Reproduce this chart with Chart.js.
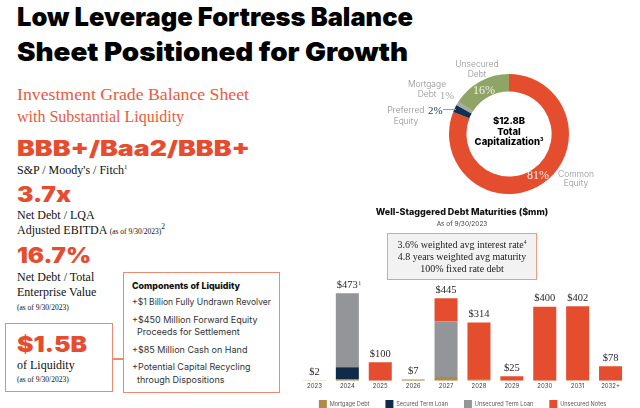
<!DOCTYPE html>
<html>
<head>
<meta charset="utf-8">
<script src="https://cdn.jsdelivr.net/npm/chart.js"></script>
<style>
  html, body { margin: 0; padding: 0; background: #fff; }
  #page { position: relative; width: 640px; height: 408px; overflow: hidden; background: #fff; }
  .t { position: absolute; white-space: nowrap; line-height: 1; }
  .heavy { font-family: Inter, "DejaVu Sans", sans-serif; font-weight: 900; }
  .serif { font-family: "Liberation Serif", "DejaVu Serif", serif; }
  .sans { font-family: Inter, "DejaVu Sans", sans-serif; }
  .or { color: #e64c2e; }
  .c { text-align: center; }
  sup { font-size: 55%; vertical-align: 0; position: relative; top: -0.7em; }
  .small { font-size: 7.5px; }
  .box { position: absolute; box-sizing: border-box; }
  .cap { color: #8b8d90; font-size: 8.5px; font-family: Inter, "DejaVu Sans", sans-serif; font-weight: 300; }
</style>
</head>
<body>
<div id="page">
  <!-- title -->
  <div class="t heavy" data-w="396" style="left:17px;top:4px;font-size:26px;color:#000;">Low Leverage Fortress Balance</div>
  <div class="t heavy" data-w="391" style="left:17px;top:39px;font-size:26px;color:#000;">Sheet Positioned for Growth</div>

  <!-- left column -->
  <div class="t serif or" data-w="232" style="left:17px;top:87px;font-size:16px;color:#ea5a40;">Investment Grade Balance Sheet</div>
  <div class="t serif or" style="left:17px;top:109px;font-size:16px;color:#ea5a40;">with Substantial Liquidity</div>
  <div class="t heavy or" data-w="233" style="left:17px;top:138px;font-size:21px;">BBB+/Baa2/BBB+</div>
  <div class="t serif" style="left:17px;top:164px;font-size:12px;color:#111;">S&amp;P / Moody's / Fitch<sup>1</sup></div>
  <div class="t heavy or" data-w="54" style="left:17px;top:184px;font-size:21px;">3.7x</div>
  <div class="t serif" style="left:17px;top:209px;font-size:12px;color:#111;">Net Debt / LQA</div>
  <div class="t serif" style="left:17px;top:224px;font-size:12px;color:#111;">Adjusted EBITDA <span class="small">(as of 9/30/2023)</span><sup class="small">2</sup></div>
  <div class="t heavy or" data-w="74" style="left:17px;top:245px;font-size:21px;">16.7%</div>
  <div class="t serif" style="left:17px;top:271px;font-size:12px;color:#111;">Net Debt / Total</div>
  <div class="t serif" style="left:17px;top:286px;font-size:12px;color:#111;">Enterprise Value</div>
  <div class="t serif" style="left:17px;top:304px;font-size:7.5px;color:#111;">(as of 9/30/2023)</div>

  <div class="box" style="left:5px;top:323px;width:108px;height:69px;border:1.5px solid #ef8a70;"></div>
  <div class="t heavy or" data-w="70" style="left:17px;top:333px;font-size:22px;">$1.5B</div>
  <div class="t serif" style="left:17px;top:359px;font-size:12px;color:#111;">of Liquidity</div>
  <div class="t serif" style="left:17px;top:376px;font-size:7.5px;color:#111;">(as of 9/30/2023)</div>
  <div class="box" style="left:113px;top:358px;width:10px;height:1.5px;background:#ef8a70;"></div>

  <div class="box" style="left:123px;top:272px;width:157px;height:121px;border:1.5px solid #ef8a70;"></div>
  <div class="t sans" data-w="108" style="left:132px;top:281px;font-size:9px;font-weight:800;color:#111;">Components of Liquidity</div>
  <div class="t sans" data-w="139" style="left:132px;top:297px;font-size:9px;color:#333;">+$1 Billion Fully Undrawn Revolver</div>
  <div class="t sans" style="left:132px;top:315px;font-size:9px;color:#333;">+$450 Million Forward Equity</div>
  <div class="t sans" style="left:137px;top:327px;font-size:9px;color:#333;">Proceeds for Settlement</div>
  <div class="t sans" style="left:132px;top:345px;font-size:9px;color:#333;">+$85 Million Cash on Hand</div>
  <div class="t sans" style="left:132px;top:362px;font-size:9px;color:#333;">+Potential Capital Recycling</div>
  <div class="t sans" style="left:137px;top:375px;font-size:9px;color:#333;">through Dispositions</div>

  <!-- donut -->
  <canvas id="capChart" width="120" height="120" style="position:absolute;left:449px;top:74px;"></canvas>
  <div class="t sans c" style="left:469px;width:80px;top:116px;font-size:9.5px;font-weight:800;color:#000;">$12.8B</div>
  <div class="t sans c" style="left:469px;width:80px;top:127px;font-size:9.5px;font-weight:800;color:#000;">Total</div>
  <div class="t sans c" style="left:469px;width:80px;top:137px;font-size:9.5px;font-weight:800;color:#000;">Capitalization<sup>3</sup></div>

  <div class="t cap c" style="left:447px;width:60px;top:60px;">Unsecured</div>
  <div class="t cap c" style="left:447px;width:60px;top:70px;">Debt</div>
  <div class="t serif c" style="left:464px;width:40px;top:84px;font-size:12px;color:#f3f1e6;">16%</div>
  <div class="t cap c" style="left:397px;width:60px;top:80px;">Mortgage</div>
  <div class="t cap c" style="left:397px;width:60px;top:90px;">Debt</div>
  <div class="t serif" style="left:440px;top:91px;font-size:10.5px;color:#a5a7aa;">1%</div>
  <div class="t cap c" style="left:376px;width:60px;top:106px;">Preferred</div>
  <div class="t cap c" style="left:376px;width:60px;top:117px;">Equity</div>
  <div class="t serif" style="left:428px;top:105px;font-size:11px;color:#1b3554;">2%</div>
  <div class="box" style="left:443px;top:109px;width:13px;height:1px;background:#9a9c9f;"></div>
  <div class="t serif" style="left:527px;top:169px;font-size:12px;color:#f7efe8;">81%</div>
  <div class="t cap c" style="left:546px;width:60px;top:170px;">Common</div>
  <div class="t cap c" style="left:546px;width:60px;top:179px;">Equity</div>

  <!-- debt maturities -->
  <div class="t sans c" style="left:362px;width:200px;top:207px;font-size:9px;font-weight:800;color:#111;">Well-Staggered Debt Maturities ($mm)</div>
  <div class="t sans c" style="left:362px;width:200px;top:221px;font-size:6.5px;color:#444;">As of 9/30/2023</div>
  <div class="box" style="left:387px;top:233px;width:150px;height:47px;background:#f2f2f2;border:1.5px solid #f29b85;"></div>
  <div class="t serif c" style="left:387px;width:150px;top:240px;font-size:10px;color:#222;">3.6% weighted avg interest rate<sup>4</sup></div>
  <div class="t serif c" style="left:387px;width:150px;top:252px;font-size:10px;color:#222;">4.8 years weighted avg maturity</div>
  <div class="t serif c" style="left:387px;width:150px;top:264px;font-size:10px;color:#222;">100% fixed rate debt</div>

  <canvas id="debtChart" width="329" height="146" style="position:absolute;left:298px;top:280px;"></canvas>
</div>

<script>
// total capitalization split (%)
const capLabels = ["Common Equity", "Preferred Equity", "Mortgage Debt", "Unsecured Debt"];
const capShares = [81, 2, 1, 16];
const capColors = ["#e44e2e", "#12304f", "#a5a7aa", "#8fa465"];

// debt maturities ($mm)
const years = ["2023", "2024", "2025", "2026", "2027", "2028", "2029", "2030", "2031", "2032+"];
const mortgageDebt = [2, 10, 0, 7, 20, 10, 0, 0, 2, 0];
const securedTermLoan = [0, 63, 0, 0, 0, 0, 0, 0, 0, 0];
const unsecuredTermLoan = [0, 400, 0, 0, 300, 0, 0, 0, 0, 0];
const unsecuredNotes = [0, 0, 100, 0, 125, 304, 25, 400, 400, 78];
const footnotes = ["", "1", "", "", "", "", "", "", "", ""];

// stretch heavy text to the widths in the picture
function fitText() {
  document.querySelectorAll("[data-w]").forEach(el => {
    el.style.transform = "none";
    const w = el.getBoundingClientRect().width;
    const target = parseFloat(el.dataset.w);
    el.style.transformOrigin = "left top";
    el.style.transform = "scaleX(" + (target / w) + ")";
  });
}

new Chart(document.getElementById("capChart"), {
  type: "doughnut",
  data: {
    labels: capLabels,
    datasets: [{ data: capShares, backgroundColor: capColors, borderWidth: 0 }]
  },
  options: {
    responsive: false,
    animation: false,
    cutout: "71%",
    plugins: { legend: { display: false }, tooltip: { enabled: false } }
  }
});

const totalLabels = {
  id: "totalLabels",
  afterDatasetsDraw(chart) {
    const c = chart.ctx;
    const xs = chart.scales.x, ys = chart.scales.y;
    c.save();
    c.fillStyle = "#2a2a36";
    c.textAlign = "center";
    c.textBaseline = "bottom";
    years.forEach((y, i) => {
      const total = mortgageDebt[i] + securedTermLoan[i] + unsecuredTermLoan[i] + unsecuredNotes[i];
      const x = xs.getPixelForValue(i);
      const py = ys.getPixelForValue(total) - 3;
      const txt = "$" + total;
      c.font = "10.5px 'Liberation Serif', serif";
      c.fillText(txt, x, py);
      if (footnotes[i]) {
        const w = c.measureText(txt).width;
        c.font = "6px 'Liberation Serif', serif";
        c.textAlign = "left";
        c.fillText(footnotes[i], x + w / 2 + 0.5, py - 4);
        c.textAlign = "center";
      }
    });
    c.restore();
  }
};

// legend padding is wide for the horizontal spacing; pull the row back up under the years
const pullLegendUp = {
  id: "pullLegendUp",
  afterLayout(chart) {
    chart.legend.top -= 8;
    chart.legend.bottom -= 8;
  }
};

new Chart(document.getElementById("debtChart"), {
  type: "bar",
  data: {
    labels: years,
    datasets: [
      { label: "Mortgage Debt", data: mortgageDebt, backgroundColor: "#b08a47" },
      { label: "Secured Term Loan", data: securedTermLoan, backgroundColor: "#0f2b49" },
      { label: "Unsecured Term Loan", data: unsecuredTermLoan, backgroundColor: "#939598" },
      { label: "Unsecured Notes", data: unsecuredNotes, backgroundColor: "#e44e2e" }
    ]
  },
  options: {
    responsive: false,
    animation: false,
    layout: { padding: 0 },
    datasets: { bar: { categoryPercentage: 1, barPercentage: 0.7, borderWidth: 0 } },
    scales: {
      x: {
        stacked: true,
        grid: { display: false, drawTicks: false },
        border: { display: false },
        ticks: { color: "#444", font: { size: 6, family: "Inter" }, padding: 2 }
      },
      y: { stacked: true, display: false, min: 0, max: 544 }
    },
    plugins: {
      tooltip: { enabled: false },
      legend: {
        position: "bottom",
        labels: { boxWidth: 8, boxHeight: 8, padding: 16, color: "#555", font: { size: 5.6, family: "Inter" } }
      }
    }
  },
  plugins: [totalLabels, pullLegendUp]
});

document.fonts.ready.then(fitText);
fitText();
</script>
</body>
</html>
